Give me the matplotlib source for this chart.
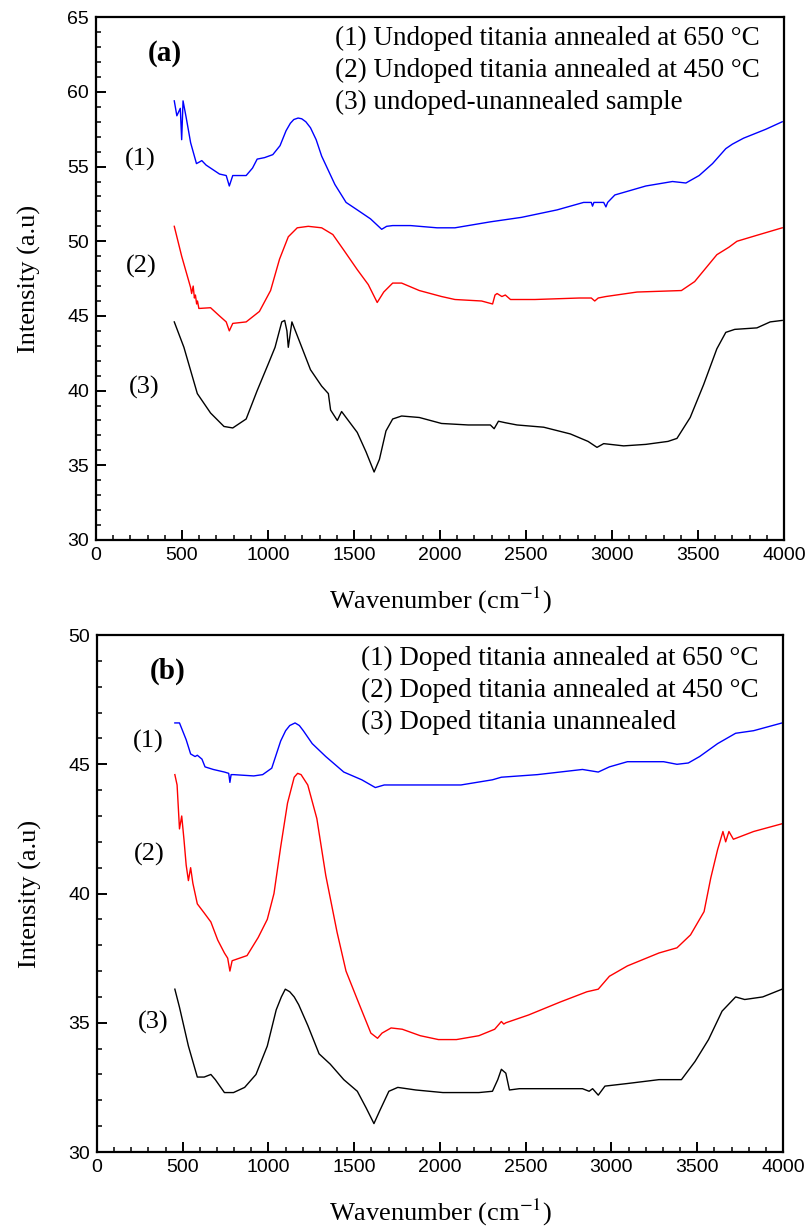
import numpy as np
import matplotlib
matplotlib.use("Agg")
import matplotlib.pyplot as plt
from matplotlib.ticker import MultipleLocator

plt.rcParams["mathtext.fontset"] = "stix"

# ---- panel (a): undoped titania ----
a1_wn = [455, 470, 490, 498, 506, 524, 550, 584, 600, 615, 640, 666, 718, 757, 775, 795, 873, 910,
         937, 980, 1028, 1070, 1105, 1130, 1150, 1175, 1196, 1220, 1247, 1280, 1312, 1389, 1454,
         1519, 1596, 1661, 1690, 1725, 1829, 1983, 2087, 2293, 2474, 2681, 2835, 2880, 2887, 2895,
         2952, 2965, 2975, 3017, 3197, 3352, 3430, 3507, 3585, 3662, 3700, 3765, 3895, 3990]
a1_int = [59.4, 58.4, 58.9, 56.8, 59.4, 58.3, 56.6, 55.2, 55.3, 55.4, 55.1, 54.9, 54.5, 54.4, 53.7,
          54.4, 54.4, 54.9, 55.5, 55.6, 55.8, 56.4, 57.4, 57.9, 58.15, 58.25, 58.2, 58.0, 57.6,
          56.8, 55.7, 53.8, 52.6, 52.1, 51.5, 50.8, 51.0, 51.05, 51.05, 50.9, 50.9, 51.3, 51.6,
          52.1, 52.6, 52.6, 52.35, 52.6, 52.6, 52.3, 52.6, 53.1, 53.7, 54.0, 53.9, 54.4, 55.2,
          56.2, 56.5, 56.9, 57.5, 58.0]

a2_wn = [455, 498, 550, 556, 565, 572, 578, 585, 590, 598, 666, 718, 757, 775, 795, 873, 950, 1015,
         1067, 1118, 1170, 1234, 1312, 1377, 1441, 1519, 1583, 1635, 1673, 1725, 1777, 1880, 2009,
         2087, 2242, 2306, 2320, 2332, 2360, 2380, 2410, 2552, 2810, 2880, 2900, 2920, 2965, 3146,
         3404, 3481, 3610, 3680, 3727, 3843, 3990]
a2_int = [51.0, 49.0, 46.9, 46.5, 47.0, 46.2, 46.4, 45.8, 46.0, 45.5, 45.55, 45.0, 44.6, 44.0, 44.5,
          44.6, 45.3, 46.7, 48.8, 50.3, 50.9, 51.0, 50.9, 50.45, 49.4, 48.1, 47.1, 45.9, 46.6, 47.2,
          47.2, 46.7, 46.3, 46.1, 46.0, 45.8, 46.4, 46.5, 46.3, 46.4, 46.1, 46.1, 46.2, 46.2, 46.0,
          46.2, 46.3, 46.6, 46.7, 47.3, 49.1, 49.6, 50.0, 50.4, 50.9]

a3_wn = [455, 511, 589, 666, 744, 795, 873, 937, 1002, 1041, 1080, 1097, 1110, 1118, 1139, 1183,
         1247, 1312, 1351, 1364, 1403, 1428, 1467, 1519, 1570, 1617, 1648, 1686, 1725, 1777, 1880,
         2009, 2164, 2293, 2315, 2340, 2380, 2448, 2603, 2758, 2861, 2913, 2952, 3068, 3197, 3326,
         3378, 3455, 3533, 3610, 3662, 3714, 3843, 3920, 3990]
a3_int = [44.6, 42.9, 39.8, 38.5, 37.6, 37.5, 38.1, 40.0, 41.8, 42.9, 44.6, 44.7, 44.0, 42.9, 44.6,
          43.3, 41.4, 40.3, 39.8, 38.7, 38.0, 38.6, 38.0, 37.2, 35.9, 34.55, 35.4, 37.3, 38.1, 38.3,
          38.2, 37.8, 37.7, 37.7, 37.45, 37.95, 37.85, 37.7, 37.55, 37.1, 36.6, 36.2, 36.45, 36.3,
          36.4, 36.6, 36.8, 38.2, 40.4, 42.8, 43.9, 44.1, 44.2, 44.6, 44.7]

# ---- panel (b): doped titania ----
b1_wn = [454, 481, 520, 546, 572, 585, 612, 630, 678, 743, 768, 775, 782, 796, 914, 966, 1019, 1071,
         1100, 1124, 1155, 1180, 1203, 1255, 1334, 1439, 1544, 1623, 1675, 1780, 2122, 2306, 2358,
         2568, 2831, 2923, 2988, 3093, 3304, 3382, 3448, 3514, 3619, 3724, 3829, 3995]
b1_int = [46.6, 46.6, 45.95, 45.4, 45.3, 45.35, 45.2, 44.9, 44.8, 44.7, 44.65, 44.3, 44.6, 44.6,
          44.55, 44.6, 44.85, 45.9, 46.3, 46.5, 46.6, 46.5, 46.3, 45.8, 45.3, 44.7, 44.4, 44.1,
          44.2, 44.2, 44.2, 44.4, 44.5, 44.6, 44.8, 44.7, 44.9, 45.1, 45.1, 45.0, 45.05, 45.3, 45.8,
          46.2, 46.3, 46.6]

b2_wn = [454, 467, 481, 494, 507, 520, 533, 546, 559, 585, 625, 664, 704, 743, 762, 775, 788, 875,
         940, 993, 1032, 1071, 1111, 1150, 1170, 1190, 1229, 1282, 1334, 1400, 1452, 1518, 1597,
         1636, 1662, 1715, 1780, 1885, 1991, 2096, 2227, 2319, 2358, 2372, 2384, 2516, 2700, 2857,
         2923, 2988, 3093, 3277, 3382, 3461, 3540, 3579, 3619, 3650, 3666, 3685, 3711, 3829, 3995]
b2_int = [44.6, 44.2, 42.5, 43.0, 42.1, 41.1, 40.5, 41.0, 40.4, 39.6, 39.25, 38.9, 38.2, 37.7, 37.5,
          37.0, 37.4, 37.6, 38.3, 39.0, 40.0, 41.8, 43.5, 44.5, 44.65, 44.6, 44.2, 42.9, 40.7, 38.5,
          37.0, 35.9, 34.6, 34.4, 34.6, 34.8, 34.75, 34.5, 34.35, 34.35, 34.5, 34.75, 35.05, 34.95,
          35.0, 35.3, 35.8, 36.2, 36.3, 36.8, 37.2, 37.7, 37.9, 38.4, 39.3, 40.6, 41.7, 42.4, 42.0,
          42.4, 42.1, 42.4, 42.7]

b3_wn = [454, 481, 533, 585, 625, 664, 690, 743, 796, 861, 927, 993, 1045, 1075, 1098, 1124, 1150,
         1176, 1229, 1295, 1360, 1439, 1518, 1570, 1615, 1649, 1702, 1754, 1859, 2017, 2227, 2306,
         2337, 2358, 2384, 2405, 2463, 2831, 2870, 2890, 2923, 2962, 3093, 3277, 3408, 3487, 3566,
         3645, 3724, 3777, 3882, 3995]
b3_int = [36.3, 35.6, 34.1, 32.9, 32.9, 33.0, 32.8, 32.3, 32.3, 32.5, 33.0, 34.1, 35.5, 36.0, 36.3,
          36.2, 36.0, 35.7, 34.9, 33.8, 33.4, 32.8, 32.35, 31.7, 31.1, 31.6, 32.35, 32.5, 32.4, 32.3,
          32.3, 32.35, 32.8, 33.2, 33.05, 32.4, 32.45, 32.45, 32.35, 32.45, 32.2, 32.55, 32.65, 32.8,
          32.8, 33.5, 34.35, 35.45, 36.0, 35.9, 36.0, 36.3]

colors = ["#0000ff", "#ff0000", "#000000"]
labels_a = ["(1) Undoped titania annealed at 650 \u00b0C",
            "(2) Undoped titania annealed at 450 \u00b0C",
            "(3) undoped-unannealed sample"]
labels_b = ["(1) Doped titania annealed at 650 \u00b0C",
            "(2) Doped titania annealed at 450 \u00b0C",
            "(3) Doped titania unannealed"]

serif = ["Liberation Serif", "DejaVu Serif"]
sans = ["Liberation Sans", "DejaVu Sans"]

fig = plt.figure(figsize=(8.09, 12.3), dpi=100)
ax_a = fig.add_axes([0.1187, 0.561, 0.8503, 0.425])
ax_b = fig.add_axes([0.1199, 0.0634, 0.8479, 0.4203])


def style_axis(ax, ymin, ymax):
    ax.set_xlim(0, 4000)
    ax.set_ylim(ymin, ymax)
    ax.xaxis.set_major_locator(MultipleLocator(500))
    ax.xaxis.set_minor_locator(MultipleLocator(100))
    ax.yaxis.set_major_locator(MultipleLocator(5))
    ax.yaxis.set_minor_locator(MultipleLocator(1))
    ax.tick_params(which="both", direction="in", top=False, right=False)
    ax.tick_params(which="major", length=7.5, width=1.4, labelsize=14, pad=5)
    ax.tick_params(which="minor", length=3.5, width=1.1)
    for s in ax.spines.values():
        s.set_linewidth(1.6)
    for lab in ax.get_xticklabels() + ax.get_yticklabels():
        lab.set_family(sans)
    ax.set_xlabel("Wavenumber (cm$^{-1}$)", family=serif, fontsize=19, labelpad=15)
    ax.set_ylabel("Intensity (a.u)", family=serif, fontsize=19, labelpad=19)


# panel (a)
for wn, val, c in zip([a1_wn, a2_wn, a3_wn], [a1_int, a2_int, a3_int], colors):
    ax_a.plot(wn, val, color=c, lw=1.0)
style_axis(ax_a, 30, 65)
ax_a.text(300, 62.55, "(a)", family=serif, fontsize=21, fontweight="bold", va="center")
for i, lab in enumerate(labels_a):
    ax_a.text(1390, 63.55 - i * 2.12, lab, family=serif, fontsize=19.5, va="center")
for lab, x, y in [("(1)", 169, 55.5), ("(2)", 175, 48.3), ("(3)", 190, 40.2)]:
    ax_a.text(x, y, lab, family=serif, fontsize=19, va="center")

# panel (b)
for wn, val, c in zip([b1_wn, b2_wn, b3_wn], [b1_int, b2_int, b3_int], colors):
    ax_b.plot(wn, val, color=c, lw=1.0)
style_axis(ax_b, 30, 50)
ax_b.text(305, 48.58, "(b)", family=serif, fontsize=21, fontweight="bold", va="center")
for i, lab in enumerate(labels_b):
    ax_b.text(1537, 49.09 - i * 1.23, lab, family=serif, fontsize=19.5, va="center")
for lab, x, y in [("(1)", 210, 45.87), ("(2)", 215, 41.5), ("(3)", 239, 35.03)]:
    ax_b.text(x, y, lab, family=serif, fontsize=19, va="center")

fig.savefig("out.png", dpi=100)
